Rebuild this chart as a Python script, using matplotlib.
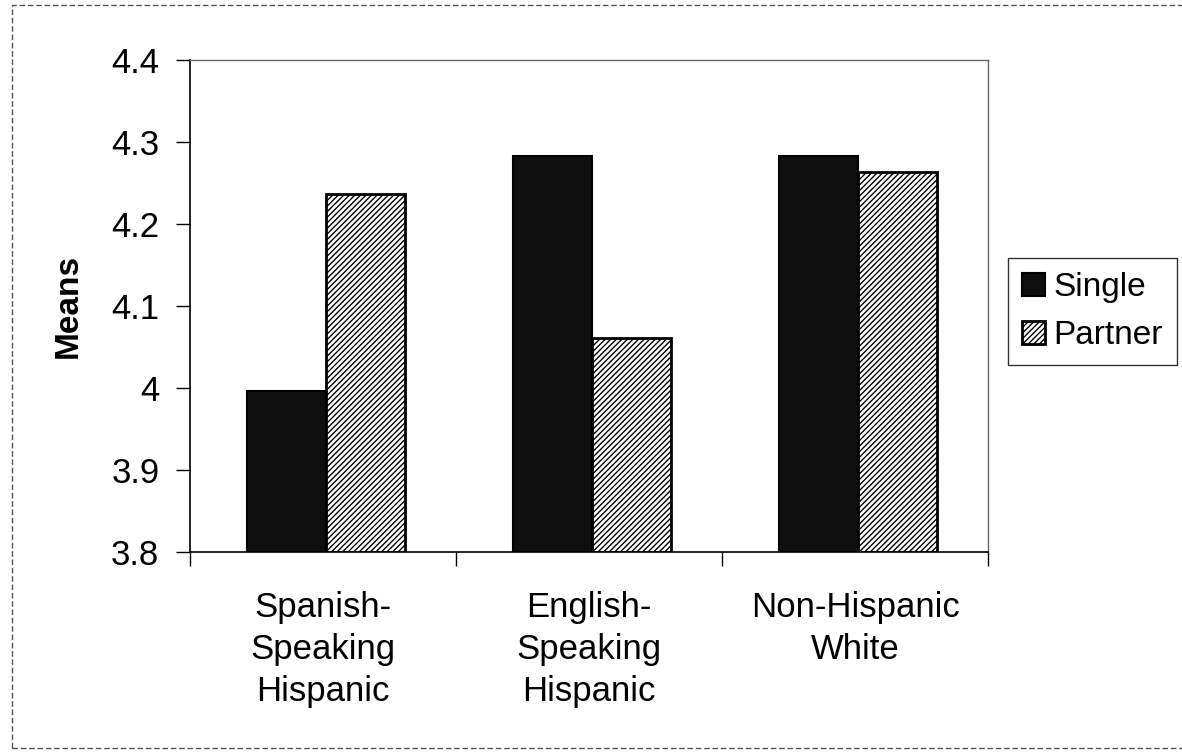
import numpy as np
import matplotlib
matplotlib.use("Agg")
import matplotlib.pyplot as plt
from matplotlib.patches import Rectangle

plt.rcParams.update({
    "font.family": ["Liberation Sans", "DejaVu Sans"],
    "hatch.linewidth": 1.0,
})

categories = ["Spanish-\nSpeaking\nHispanic", "English-\nSpeaking\nHispanic",
              "Non-Hispanic\nWhite"]
single = [3.996, 4.283, 4.283]
partner = [4.237, 4.061, 4.263]
y_ticks = [3.8, 3.9, 4.0, 4.1, 4.2, 4.3, 4.4]
y_labels = ["3.8", "3.9", "4", "4.1", "4.2", "4.3", "4.4"]

fig = plt.figure(figsize=(11.82, 7.55), dpi=100)
ax = fig.add_axes([0.1607, 0.2689, 0.6752, 0.6516])

x = np.arange(len(categories))
w = 0.297
ax.bar(x - w / 2 + 0.01, np.array(single) - 3.8, w, bottom=3.8,
       color="#0f0f0f", edgecolor="black", linewidth=1.5, label="Single")
ax.bar(x + w / 2 + 0.01, np.array(partner) - 3.8, w, bottom=3.8,
       color="white", edgecolor="black", hatch="//////", linewidth=2.0,
       label="Partner")

ax.set_xlim(-0.5, 2.5)
ax.set_ylim(3.8, 4.4)
ax.set_yticks(y_ticks)
ax.set_yticklabels(y_labels, fontsize=25)
ax.set_ylabel("Means", fontsize=24, fontweight="bold", labelpad=20)

# category labels between boundary ticks
ax.set_xticks([-0.5, 0.5, 1.5, 2.5])
ax.set_xticklabels([])
ax.set_xticks(x, minor=True)
ax.set_xticklabels(categories, minor=True, fontsize=25, linespacing=1.35)
ax.tick_params(axis="x", which="minor", length=0, pad=28)
ax.tick_params(axis="x", which="major", length=10, width=1, direction="out")
ax.tick_params(axis="y", length=10, width=1, direction="out", pad=12)

for s in ["left", "bottom"]:
    ax.spines[s].set_linewidth(1.2)
for s in ["top", "right"]:
    ax.spines[s].set_color("#666666")
    ax.spines[s].set_linestyle((0, (2, 1)))
    ax.spines[s].set_linewidth(1.0)

leg = fig.legend(loc="upper left", bbox_to_anchor=(0.853, 0.658),
                 fontsize=24, frameon=True, fancybox=False,
                 edgecolor="black", handlelength=0.68, handleheight=0.7,
                 handletextpad=0.25, borderpad=0.42, labelspacing=0.5,
                 borderaxespad=0)
leg.get_frame().set_linewidth(1.0)

# outer chart frame
fig.patches.append(Rectangle((0.01, 0.009), 1.2, 0.984,
                             transform=fig.transFigure, fill=False,
                             edgecolor="#555555", linewidth=1.0,
                             linestyle=(0, (4, 2))))

fig.savefig("out.png", dpi=100)
